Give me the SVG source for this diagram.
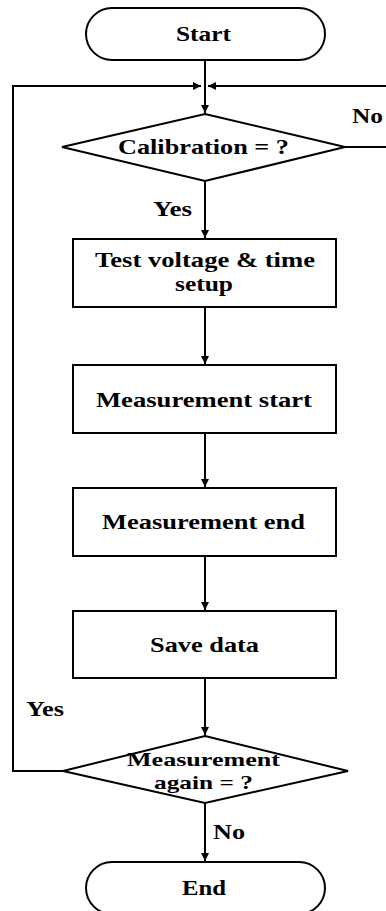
<svg xmlns="http://www.w3.org/2000/svg" width="386" height="911" viewBox="0 0 386 911">
<style>
.shape{fill:#fff;stroke:#000;stroke-width:2}
.t{font-family:"Liberation Serif","Times New Roman",serif;font-weight:bold;font-size:21px;fill:#000;text-anchor:middle}
.tl{font-family:"Liberation Serif","Times New Roman",serif;font-weight:bold;font-size:21px;fill:#000}
.c{fill:none;stroke:#000;stroke-width:2}
.s{font-size:19px}
</style>
<defs>
<marker id="ah" markerUnits="userSpaceOnUse" markerWidth="9" markerHeight="9" refX="8" refY="4" orient="auto">
<path d="M0,0 L8,4 L0,8 z" fill="#000"/>
</marker>
</defs>
<rect width="386" height="911" fill="#fff"/>
<g id="connectors">
<path class="c" d="M205,60 V113" marker-end="url(#ah)"/>
<path class="c" d="M63,771 H13 V86 H201" marker-end="url(#ah)"/>
<path class="c" d="M345,147 H392 V86 H208" marker-end="url(#ah)"/>
<path class="c" d="M205,181 V238" marker-end="url(#ah)"/>
<path class="c" d="M205,307 V364" marker-end="url(#ah)"/>
<path class="c" d="M205,433 V487" marker-end="url(#ah)"/>
<path class="c" d="M205,556 V610" marker-end="url(#ah)"/>
<path class="c" d="M205,678 V735" marker-end="url(#ah)"/>
<path class="c" d="M205,803 V861" marker-end="url(#ah)"/>
<text class="tl" x="352" y="123" textLength="31" lengthAdjust="spacingAndGlyphs">No</text>
<text class="tl" x="153" y="216" textLength="39" lengthAdjust="spacingAndGlyphs">Yes</text>
<text class="tl" x="26" y="716" textLength="38" lengthAdjust="spacingAndGlyphs">Yes</text>
<text class="tl" x="213" y="839" textLength="32" lengthAdjust="spacingAndGlyphs">No</text>
</g>
<g id="start">
<rect class="shape" x="86" y="8" width="239" height="52" rx="26"/>
<text class="t" x="203.5" y="41" textLength="55" lengthAdjust="spacingAndGlyphs">Start</text>
</g>
<g id="calibration">
<polygon class="shape" points="205,114 345,147 205,181 62,147"/>
<text class="t" x="203.5" y="154" textLength="171" lengthAdjust="spacingAndGlyphs">Calibration = ?</text>
</g>
<g id="setup">
<rect class="shape" x="73" y="239" width="263" height="68"/>
<text class="t" x="205" y="267" textLength="220" lengthAdjust="spacingAndGlyphs">Test voltage &amp; time</text>
<text class="t" x="204" y="291" textLength="58" lengthAdjust="spacingAndGlyphs">setup</text>
</g>
<g id="mstart">
<rect class="shape" x="73" y="365" width="263" height="68"/>
<text class="t" x="204" y="407" textLength="216" lengthAdjust="spacingAndGlyphs">Measurement start</text>
</g>
<g id="mend">
<rect class="shape" x="73" y="488" width="263" height="68"/>
<text class="t" x="203.5" y="529" textLength="203" lengthAdjust="spacingAndGlyphs">Measurement end</text>
</g>
<g id="save">
<rect class="shape" x="73" y="611" width="263" height="67"/>
<text class="t" x="204.5" y="652" textLength="109" lengthAdjust="spacingAndGlyphs">Save data</text>
</g>
<g id="again">
<polygon class="shape" points="205,736 348,771 205,803 63,771"/>
<text class="t s" x="203.5" y="766" textLength="153" lengthAdjust="spacingAndGlyphs">Measurement</text>
<text class="t s" x="203.5" y="789" textLength="99" lengthAdjust="spacingAndGlyphs">again = ?</text>
</g>
<g id="end">
<rect class="shape" x="86" y="862" width="239" height="52" rx="26"/>
<text class="t" x="204" y="895" textLength="44" lengthAdjust="spacingAndGlyphs">End</text>
</g>
</svg>
